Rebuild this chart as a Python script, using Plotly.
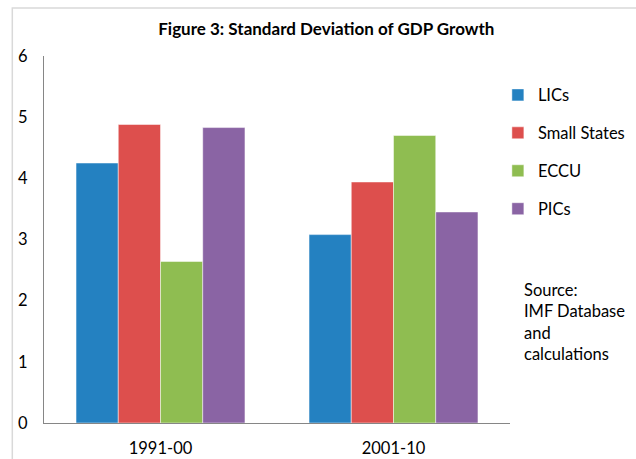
import plotly.graph_objects as go

periods = ["1991-00", "2001-10"]
groups = ["LICs", "Small States", "ECCU", "PICs"]
lics = [4.25, 3.08]
small_states = [4.88, 3.94]
eccu = [2.64, 4.70]
pics = [4.83, 3.45]
colors = ["#2481c1", "#dd4f4d", "#8fbd51", "#8a64a4"]

fig = go.Figure()
for i, (name, vals) in enumerate(zip(groups, [lics, small_states, eccu, pics])):
    fig.add_trace(go.Bar(
        x=periods, y=vals, name=name, legendgroup=name,
        marker=dict(color=colors[i], line=dict(color="rgba(255,255,255,0.6)", width=0.8)),
    ))

fig.update_layout(
    width=636, height=459,
    paper_bgcolor="white", plot_bgcolor="white",
    font=dict(family="Lato, Open Sans, sans-serif", size=16.5, color="#000000"),
    margin=dict(l=44, r=126, t=56, b=36, autoexpand=False),
    barmode="group", bargap=0.275, bargroupgap=0,
    title=dict(text="<b>Figure 3: Standard Deviation of GDP Growth</b>",
               x=0.513, xanchor="center", y=0.937, yanchor="middle",
               font=dict(size=17)),
    legend=dict(x=0.974, xanchor="left", y=0.941, yanchor="top",
                tracegroupgap=13.5, font=dict(size=16.5),
                bgcolor="rgba(0,0,0,0)"),
    showlegend=True,
)
fig.update_yaxes(range=[0, 6], dtick=1, showgrid=False, zeroline=False,
                 showline=True, linecolor="#868686", linewidth=1,
                 ticks="", tickfont=dict(size=16.5), ticklabelstandoff=12)
fig.update_xaxes(type="category", showgrid=False, showline=True,
                 linecolor="#868686", linewidth=1,
                 ticks="", tickfont=dict(size=16.5), ticklabelstandoff=10)

fig.add_annotation(text="Source:<br>IMF Database<br>and<br>calculations",
                   xref="paper", yref="paper", x=1.025, y=0.396,
                   xanchor="left", yanchor="top", align="left",
                   showarrow=False, font=dict(size=16.5))

# light frame around the whole chart
fig.add_shape(type="rect", xref="paper", yref="paper",
              x0=-0.068, x1=1.4, y0=-0.2, y1=1.131,
              line=dict(color="#d9d9d9", width=1.5), layer="below")

fig.write_html("out.html", config={"displayModeBar": False},
               post_script="document.body.style.margin='0';document.body.style.overflow='hidden';")
